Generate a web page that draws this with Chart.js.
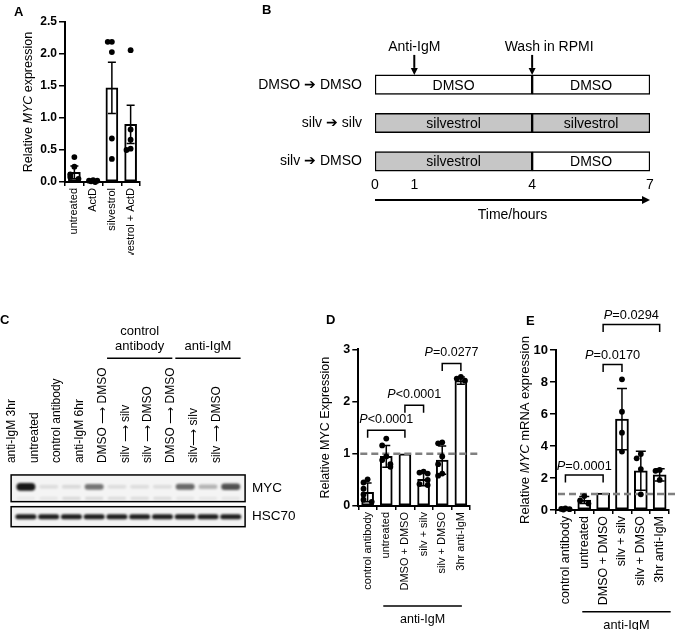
<!DOCTYPE html>
<html>
<head>
<meta charset="utf-8">
<title>MYC expression after silvestrol</title>
<script src="https://cdn.jsdelivr.net/npm/chart.js@4.4.1/dist/chart.umd.min.js"></script>
<style>
  body { margin: 0; background: #fff; }
  #figure { position: relative; width: 677px; height: 630px; overflow: hidden; }
  #figure canvas { position: absolute; }
  .panel-tag { position: absolute; font: bold 13px 'Liberation Sans', Arial, sans-serif; line-height: 1; }
</style>
</head>
<body>
<div id="figure">
  <canvas id="chartA" width="180" height="255" style="left:0;top:0;width:180px;height:255px"></canvas>
  <canvas id="chartB" width="497" height="250" style="left:180px;top:0;width:497px;height:250px"></canvas>
  <canvas id="chartC" width="300" height="320" style="left:0;top:310px;width:300px;height:320px"></canvas>
  <canvas id="chartD" width="180" height="320" style="left:300px;top:310px;width:180px;height:320px"></canvas>
  <canvas id="chartE" width="197" height="320" style="left:480px;top:310px;width:197px;height:320px"></canvas>
  <div class="panel-tag" style="left:14px;top:5px">A</div>
  <div class="panel-tag" style="left:262px;top:3px">B</div>
  <div class="panel-tag" style="left:0;top:313px">C</div>
  <div class="panel-tag" style="left:326px;top:313px">D</div>
  <div class="panel-tag" style="left:526px;top:314px">E</div>
</div>
<script>
const FONT = "'Liberation Sans', Arial, Helvetica, sans-serif";
Chart.defaults.font.family = FONT;
Chart.defaults.color = '#000';

// ---- A: MYC after ActD / silvestrol
const aLabels = ['untreated', 'ActD', 'silvestrol', 'silvestrol + ActD'];
const aMeans = [0.15, 0.02, 1.47, 0.90];
const aErrors = [0.10, 0.01, 0.40, 0.30];
const aPoints = [
  [0.39, 0.24, 0.12, 0.08, 0.05],
  [0.03, 0.02, 0.02, 0.01, 0.00],
  [2.19, 2.19, 2.03, 0.68, 0.36],
  [2.06, 0.82, 0.66, 0.52, 0.50]
];
const aYTicks = [0, 0.5, 1.0, 1.5, 2.0, 2.5];

// ---- B: treatment timeline
const bRows = ['DMSO \u2794 DMSO', 'silv \u2794 silv', 'silv \u2794 DMSO'];
const bFirst = ['DMSO', 'silvestrol', 'silvestrol'];
const bSecond = ['DMSO', 'silvestrol', 'DMSO'];
const bPhases = [[0, 4], [4, 7]];
const bTimeTicks = [0, 1, 4, 7];
const bEvents = ['Anti-IgM', 'Wash in RPMI'];
const bEventTimes = [1, 4];

// ---- C: western blot (band strength 0..1)
const cLanes = ['anti-IgM 3hr', 'untreated', 'control antibody', 'anti-IgM 6hr',
  'DMSO \u27F6 DMSO', 'silv \u27F6 silv', 'silv \u27F6 DMSO',
  'DMSO \u27F6 DMSO', 'silv\u27F6 silv', 'silv \u27F6 DMSO'];
const cBlots = ['MYC', 'HSC70'];
const cMyc = [0.95, 0.10, 0.12, 0.55, 0.10, 0.10, 0.10, 0.60, 0.28, 0.70];
const cMycLower = [0.06, 0.08, 0.14, 0.14, 0.12, 0.12, 0.12, 0.08, 0.07, 0.08];
const cHsc70 = [0.92, 0.92, 0.92, 0.92, 0.92, 0.92, 0.92, 0.92, 0.92, 0.92];
const cGroups = [['control', 'antibody'], ['anti-IgM']];
const cGroupFrom = [4, 7];
const cGroupTo = [6, 9];

// ---- D: relative MYC protein
const dLabels = ['control antibody', 'untreated', 'DMSO + DMSO', 'silv + silv', 'silv + DMSO', '3hr anti-IgM'];
const dMeans = [0.26, 0.95, 1.00, 0.51, 0.88, 2.40];
const dErrors = [0.18, 0.21, 0, 0.12, 0.27, 0.07];
const dPoints = [
  [0.51, 0.45, 0.33, 0.22, 0.12, 0.08],
  [1.29, 1.16, 0.95, 0.88, 0.80, 0.75],
  [],
  [0.66, 0.64, 0.62, 0.50, 0.42, 0.40],
  [1.22, 1.20, 0.95, 0.80, 0.62, 0.58],
  [2.47, 2.44, 2.40]
];
const dYTicks = [0, 1, 2, 3];
const dBrackets = [[0, 2, 1.45, 'P<0.0001'], [2, 3, 1.93, 'P<0.0001'], [4, 5, 2.73, 'P=0.0277']];

// ---- E: relative MYC mRNA
const eLabels = ['control antibody', 'untreated', 'DMSO + DMSO', 'silv + silv', 'silv + DMSO', '3hr anti-IgM'];
const eMeans = [0.06, 0.62, 1.05, 5.68, 2.45, 2.20];
const eErrors = [0.03, 0.22, 0, 1.92, 1.22, 0.38];
const ePoints = [
  [0.10, 0.07, 0.05, 0.03],
  [0.87, 0.60, 0.40],
  [],
  [8.17, 6.14, 4.83, 3.65],
  [3.50, 3.23, 2.56, 0.98],
  [2.50, 2.45, 1.88]
];
const eYTicks = [0, 2, 4, 6, 8, 10];
const eBrackets = [[0, 2, 2.19, 'P=0.0001'], [2, 3, 9.1, 'P=0.0170'], [2, 5, 11.6, 'P=0.0294']];


// text with every second part in italics, centred on x,y
function drawRich(ctx, parts, x, y, size, vertical) {
  ctx.save();
  ctx.translate(x, y);
  if (vertical) ctx.rotate(-Math.PI / 2);
  ctx.textAlign = 'left';
  ctx.textBaseline = 'middle';
  ctx.fillStyle = '#000';
  const fonts = parts.map((t, i) => (i % 2 ? 'italic ' : '') + size + 'px ' + FONT);
  const widths = parts.map((t, i) => { ctx.font = fonts[i]; return ctx.measureText(t).width; });
  let cx = -widths.reduce((s, w) => s + w, 0) / 2;
  parts.forEach((t, i) => { ctx.font = fonts[i]; ctx.fillText(t, cx, 0); cx += widths[i]; });
  ctx.restore();
}

function arrow(ctx, x1, y1, x2, y2, head) {
  const a = Math.atan2(y2 - y1, x2 - x1);
  ctx.beginPath();
  ctx.moveTo(x1, y1);
  ctx.lineTo(x2 - Math.cos(a) * head, y2 - Math.sin(a) * head);
  ctx.stroke();
  ctx.beginPath();
  ctx.moveTo(x2, y2);
  ctx.lineTo(x2 - Math.cos(a) * head - Math.sin(a) * head * 0.5, y2 - Math.sin(a) * head + Math.cos(a) * head * 0.5);
  ctx.lineTo(x2 - Math.cos(a) * head + Math.sin(a) * head * 0.5, y2 - Math.sin(a) * head - Math.cos(a) * head * 0.5);
  ctx.closePath();
  ctx.fill();
}

// side by side offsets for dots with nearly the same value
function spread(vals, range) {
  return vals.map((v, k) => {
    const near = vals.slice(0, k).filter(u => Math.abs(u - v) < range * 0.05).length;
    return [0, -0.22, 0.22, -0.11, 0.11][near % 5];
  });
}

function barDecor(d, look) {
  return {
    id: 'barDecor',
    afterDatasetDraw(chart, args) {
      if (args.index !== 0) return;
      const { ctx, chartArea } = chart;
      const y = chart.scales.y;
      ctx.save();
      if (d.refLine != null) {
        const yy = y.getPixelForValue(d.refLine);
        ctx.strokeStyle = '#808080';
        ctx.lineWidth = 2.5;
        ctx.setLineDash([7, 4]);
        ctx.beginPath();
        ctx.moveTo(chartArea.left + 2, yy);
        ctx.lineTo(chart.width, yy);
        ctx.stroke();
        ctx.setLineDash([]);
      }
      ctx.strokeStyle = '#000';
      ctx.lineWidth = 1.5;
      chart.getDatasetMeta(0).data.forEach((bar, i) => {
        const e = d.errors[i];
        if (!e) return;
        const top = y.getPixelForValue(d.means[i] + e);
        const bot = y.getPixelForValue(Math.max(0, d.means[i] - e));
        const c = look.cap / 2;
        ctx.beginPath();
        ctx.moveTo(bar.x, top); ctx.lineTo(bar.x, bot);
        ctx.moveTo(bar.x - c, top); ctx.lineTo(bar.x + c, top);
        ctx.moveTo(bar.x - c, bot); ctx.lineTo(bar.x + c, bot);
        ctx.stroke();
      });
      ctx.restore();
    },
    afterDraw(chart) {
      const { ctx, chartArea } = chart;
      const x = chart.scales.x, y = chart.scales.y;
      ctx.save();
      ctx.strokeStyle = '#000';
      ctx.lineWidth = 1.5;
      (d.brackets || []).forEach(([a, b, v, label]) => {
        const x1 = x.getPixelForValue(a), x2 = x.getPixelForValue(b), yy = y.getPixelForValue(v);
        ctx.beginPath();
        ctx.moveTo(x1, yy + 7.5); ctx.lineTo(x1, yy); ctx.lineTo(x2, yy); ctx.lineTo(x2, yy + 7.5);
        ctx.stroke();
        drawRich(ctx, ['', label[0], label.slice(1)], (x1 + x2) / 2, yy - look.pGap, look.pSize, false);
      });
      drawRich(ctx, d.title, chartArea.left - look.titleGap, (chartArea.top + chartArea.bottom) / 2, look.titleSize, true);
      if (d.group) {
        const g = look.group;
        const x1 = x.getPixelForValue(d.group.from) - g.padL, x2 = x.getPixelForValue(d.group.to) + g.padR;
        ctx.beginPath();
        ctx.moveTo(x1, g.y); ctx.lineTo(x2, g.y);
        ctx.stroke();
        drawRich(ctx, [d.group.label], (x1 + x2) / 2, g.y + 13.5, look.pSize, false);
      }
      ctx.restore();
    }
  };
}

function barPanel(id, d, look) {
  const canvas = document.getElementById(id);
  const W = canvas.width, H = canvas.height, area = look.area;
  const n = d.labels.length;
  const yMax = d.ticks[d.ticks.length - 1];
  const dots = [];
  d.points.forEach((vals, i) => {
    const off = spread(vals, yMax);
    vals.forEach((v, k) => dots.push({ x: i + off[k], y: v }));
  });
  const axisGrid = len => ({ display: true, drawOnChartArea: false, drawTicks: true, tickLength: len, color: '#000', lineWidth: 1.5 });

  return new Chart(canvas, {
    type: 'bar',
    data: {
      labels: d.labels,
      datasets: [
        { type: 'bar', data: d.means, order: 2, grouped: false, backgroundColor: '#fff', borderColor: '#000',
          borderWidth: 2, borderSkipped: false, barThickness: look.barW },
        { type: 'scatter', data: dots, order: 1, xAxisID: 'xDots', yAxisID: 'y', clip: false,
          pointRadius: 2.9, pointBackgroundColor: '#000', pointBorderWidth: 0 }
      ]
    },
    options: {
      responsive: false,
      maintainAspectRatio: false,
      animation: false,
      layout: { padding: { left: 0, top: area.top, right: W - area.right, bottom: 0 } },
      plugins: { legend: { display: false }, tooltip: { enabled: false } },
      scales: {
        x: {
          type: 'category',
          offset: true,
          grid: axisGrid(4),
          border: { display: true, color: '#000', width: 2 },
          ticks: { autoSkip: false, minRotation: 90, maxRotation: 90, padding: 2, color: '#000', font: { size: look.catSize } },
          afterFit: s => { s.height = H - area.bottom; }
        },
        xDots: { type: 'linear', display: false, offset: false, grid: { offset: false }, min: -0.5, max: n - 0.5 },
        y: {
          min: d.ticks[0],
          max: yMax,
          grid: axisGrid(6),
          border: { display: true, color: '#000', width: 2 },
          ticks: { padding: 2, color: '#000', font: { size: look.tickSize, weight: 'bold' }, callback: v => look.fmt(v) },
          afterBuildTicks: s => { s.ticks = d.ticks.map(v => ({ value: v })); },
          afterFit: s => { s.width = area.left; }
        }
      }
    },
    plugins: [barDecor(d, look)]
  });
}

// Panel A
barPanel('chartA', {
  labels: aLabels, means: aMeans, errors: aErrors, points: aPoints, ticks: aYTicks,
  title: ['Relative ', 'MYC', ' expression']
}, {
  area: { left: 65, top: 22, right: 140, bottom: 182 },
  barW: 12, cap: 8, catSize: 11, tickSize: 12, titleSize: 12.5, pSize: 12.5, pGap: 10, titleGap: 36.7,
  fmt: v => Number(v).toFixed(1)
});

// Panel D
barPanel('chartD', {
  labels: dLabels, means: dMeans, errors: dErrors, points: dPoints, ticks: dYTicks,
  brackets: dBrackets, refLine: 1,
  title: ['Relative MYC Expression'],
  group: { label: 'anti-IgM', from: 1, to: 5 }
}, {
  area: { left: 58.3, top: 39.3, right: 170.2, bottom: 196 },
  barW: 12, cap: 8, catSize: 11, tickSize: 12.5, titleSize: 12.5, pSize: 12.5, pGap: 11, titleGap: 32.3,
  group: { y: 296, padL: 3, padR: 1 },
  fmt: v => String(v)
});

// Panel E
barPanel('chartE', {
  labels: eLabels, means: eMeans, errors: eErrors, points: ePoints, ticks: eYTicks,
  brackets: eBrackets, refLine: 1,
  title: ['Relative ', 'MYC', ' mRNA expression'],
  group: { label: 'anti-IgM', from: 1, to: 5 }
}, {
  area: { left: 76, top: 40, right: 193.6, bottom: 200 },
  barW: 13, cap: 10, catSize: 12.5, tickSize: 13, titleSize: 13, pSize: 12.8, pGap: 8.5, titleGap: 31,
  group: { y: 301.7, padL: 2, padR: 11 },
  fmt: v => String(v)
});


// Panel B: timeline
const drugFill = name => name === 'silvestrol' ? '#c6c6c6' : '#ffffff';

const timelineDecor = {
  id: 'timelineDecor',
  afterDraw(chart) {
    const { ctx, chartArea } = chart;
    const x = chart.scales.x;
    ctx.save();
    ctx.fillStyle = '#000';
    ctx.strokeStyle = '#000';
    ctx.font = '14px ' + FONT;
    ctx.textAlign = 'center';
    ctx.textBaseline = 'middle';

    [bFirst, bSecond].forEach((names, ds) => {
      chart.getDatasetMeta(ds).data.forEach((bar, i) => {
        const c = bar.getCenterPoint();
        ctx.fillText(names[i], c.x, c.y + 1);
      });
    });

    // arrows for anti-IgM and wash
    const first = chart.getDatasetMeta(0).data[0];
    const boxTop = first.y - first.height / 2;
    const labelShift = [0, 17];
    ctx.lineWidth = 2;
    bEventTimes.forEach((t, i) => {
      const px = x.getPixelForValue(t);
      arrow(ctx, px, boxTop - 20, px, boxTop, 7);
      ctx.fillText(bEvents[i], px + labelShift[i], boxTop - 28);
    });

    // time axis
    const yTick = chartArea.bottom + 4.5;
    bTimeTicks.forEach(t => ctx.fillText(String(t), x.getPixelForValue(t), yTick));
    ctx.lineWidth = 2;
    arrow(ctx, x.getPixelForValue(0), yTick + 15, x.getPixelForValue(7), yTick + 15, 8);
    ctx.fillText('Time/hours', (x.getPixelForValue(0) + x.getPixelForValue(7)) / 2, yTick + 30);
    ctx.restore();
  }
};

new Chart(document.getElementById('chartB'), {
  type: 'bar',
  data: {
    labels: bRows,
    datasets: [
      { data: bRows.map(() => bPhases[0]), backgroundColor: bFirst.map(drugFill) },
      { data: bRows.map(() => bPhases[1]), backgroundColor: bSecond.map(drugFill) }
    ].map(ds => Object.assign(ds, { grouped: false, barThickness: 19.5, borderColor: '#000', borderWidth: 1.5, borderSkipped: false }))
  },
  options: {
    indexAxis: 'y',
    responsive: false,
    maintainAspectRatio: false,
    animation: false,
    layout: { padding: { left: 0, top: 65.5, right: 27, bottom: 69.5 } },
    plugins: { legend: { display: false }, tooltip: { enabled: false } },
    scales: {
      x: { type: 'linear', display: false, min: 0, max: 7 },
      y: {
        grid: { display: false, drawTicks: false },
        border: { display: false },
        ticks: { padding: 13, color: '#000', font: { size: 14 } },
        afterFit: s => { s.width = 195; }
      }
    }
  },
  plugins: [timelineDecor]
});


// Panel C: blot
const BLOT_BOX_H = [26.7, 20];

function band(ctx, cx, cy, w, h, k) {
  ctx.save();
  ctx.filter = 'blur(1.1px)';
  ctx.fillStyle = 'rgba(12,12,12,' + k + ')';
  ctx.beginPath();
  ctx.roundRect(cx - w / 2, cy - h / 2, w, h, h / 2);
  ctx.fill();
  ctx.restore();
}

const blotDecor = {
  id: 'blotDecor',
  afterDraw(chart) {
    const { ctx } = chart;
    const x = chart.scales.x, y = chart.scales.y;
    const half = (x.getPixelForValue(1) - x.getPixelForValue(0)) / 2;
    ctx.save();
    cBlots.forEach((name, r) => {
      const yc = y.getPixelForValue(r), h = BLOT_BOX_H[r];
      const left = x.left - 3.4, right = x.right + 3;
      ctx.fillStyle = '#f4f4f4';
      ctx.fillRect(left, yc - h / 2, right - left, h);
      ctx.save();
      ctx.beginPath();
      ctx.rect(left, yc - h / 2, right - left, h);
      ctx.clip();
      cLanes.forEach((lane, i) => {
        const cx = x.getPixelForValue(i);
        if (r === 0) {
          band(ctx, cx, yc - 1.5, 19, 3 + 5 * cMyc[i], cMyc[i]);
          band(ctx, cx, yc + 10, 18, 2.5, cMycLower[i]);
        } else {
          band(ctx, cx, yc, 21, 5, cHsc70[i]);
        }
      });
      ctx.restore();
      ctx.strokeStyle = '#000';
      ctx.lineWidth = 1.5;
      ctx.strokeRect(left, yc - h / 2, right - left, h);
    });

    // treatment group headers
    ctx.fillStyle = '#000';
    ctx.strokeStyle = '#000';
    ctx.lineWidth = 1.5;
    ctx.font = '13px ' + FONT;
    ctx.textAlign = 'center';
    ctx.textBaseline = 'middle';
    cGroups.forEach((lines, g) => {
      const x1 = x.getPixelForValue(cGroupFrom[g]) - half + 1.5;
      const x2 = x.getPixelForValue(cGroupTo[g]) + half - 1.5;
      const ly = x.top + 48.3;
      ctx.beginPath();
      ctx.moveTo(x1, ly); ctx.lineTo(x2, ly);
      ctx.stroke();
      lines.forEach((t, j) => ctx.fillText(t, (x1 + x2) / 2, ly - 11.6 - (lines.length - 1 - j) * 15));
    });
    ctx.restore();
  }
};

new Chart(document.getElementById('chartC'), {
  type: 'bar',
  data: { labels: cLanes, yLabels: cBlots, datasets: [] },
  options: {
    responsive: false,
    maintainAspectRatio: false,
    animation: false,
    layout: { padding: { left: 10.1, top: 0, right: 0, bottom: 99.1 } },
    plugins: { legend: { display: false }, tooltip: { enabled: false } },
    scales: {
      x: {
        type: 'category',
        position: 'top',
        offset: true,
        grid: { display: false, drawTicks: false },
        border: { display: false },
        ticks: { autoSkip: false, minRotation: 90, maxRotation: 90, padding: 11, color: '#000', font: { size: 12 } },
        afterFit: s => { s.height = 164.1; }
      },
      y: {
        type: 'category',
        labels: cBlots,
        position: 'right',
        offset: true,
        grid: { display: false, drawTicks: false },
        border: { display: false },
        ticks: { padding: 10, color: '#000', font: { size: 13.5 } },
        afterFit: s => { s.width = 57.9; }
      }
    }
  },
  plugins: [blotDecor]
});
</script>
</body>
</html>
